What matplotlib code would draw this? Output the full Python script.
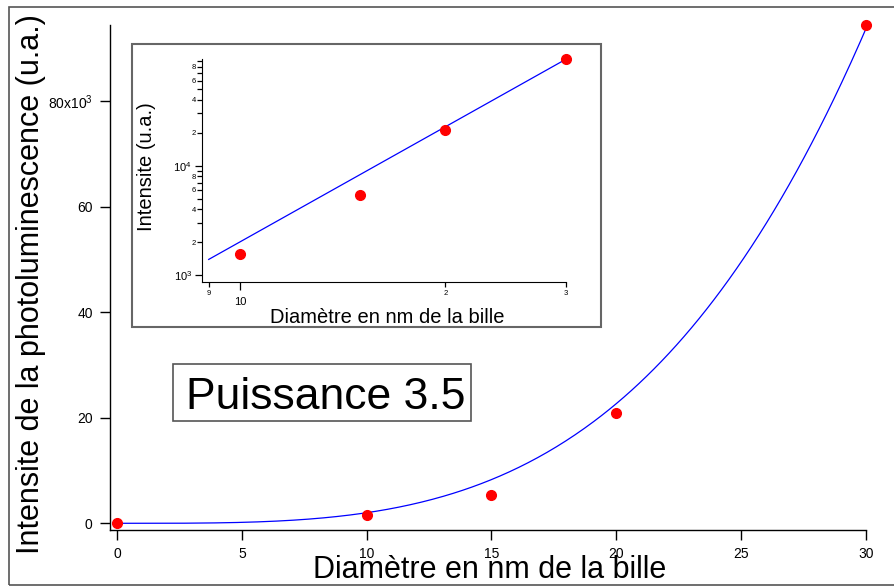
import numpy as np
import matplotlib.pyplot as plt
from matplotlib.patches import Rectangle

plt.rcParams['font.family'] = ['Liberation Sans', 'DejaVu Sans']
plt.rcParams['mathtext.fontset'] = 'custom'
plt.rcParams['mathtext.rm'] = 'Liberation Sans'
plt.rcParams['mathtext.it'] = 'Liberation Sans:italic'

# Mesures : diamètre des billes (nm) et intensité de photoluminescence (u.a.)
diametre = [0, 10, 15, 20, 30]
intensite = [0, 1550, 5400, 21000, 94500]
puissance = 3.5

# graduations
xticks_lin = [0, 5, 10, 15, 20, 25, 30]
yticks_lin = [0, 20000, 40000, 60000, 80000]
ylabels_lin = ['0', '20', '40', '60', r'$\mathregular{80x10^{3}}$']
xmaj_log = [10]
xmaj_log_labels = ['10']
xmin_log = [9, 20, 30]
xmin_log_labels = ['9', '2', '3']
ymaj_log = [1e3, 1e4]
ymaj_log_labels = [r'$\mathregular{10^{3}}$', r'$\mathregular{10^{4}}$']
ymin_log = [k * 1e3 for k in range(2, 10)] + [k * 1e4 for k in range(2, 10)]
ymin_log_labels = (['2', '', '4', '', '6', '', '8', ''] * 2)

W, H = 894, 586


# boîte en pixels (gauche, haut, droite, bas) -> fraction de la figure
def box(x0, y0, x1, y1):
    return [x0 / W, (H - y1) / H, (x1 - x0) / W, (y1 - y0) / H]


def fx(x):
    return x / W


def fy(y):
    return (H - y) / H


# ajustement en loi de puissance y = a * d^p (moindres carrés)
def fit_puissance(d, y, p):
    d = np.asarray(d, float)
    y = np.asarray(y, float)
    return np.sum(y * d**p) / np.sum(d**(2 * p))


def main():
    a = fit_puissance(diametre, intensite, puissance)

    fig = plt.figure(figsize=(W / 100, H / 100), dpi=100)

    # cadre extérieur
    fig.add_artist(Rectangle((fx(9), fy(585)), 1.0, 578 / H,
                             transform=fig.transFigure, fill=False,
                             ec='#555555', lw=1.2, zorder=0))

    # graphique principal (échelle linéaire)
    ax = fig.add_axes(box(110, 25, 866, 530))
    for s in ['top', 'right']:
        ax.spines[s].set_visible(False)
    for s in ['left', 'bottom']:
        ax.spines[s].set_linewidth(1.0)
    ax.set_xlim(-0.28, 30)
    ax.set_ylim(-1270, max(intensite))
    ax.set_xticks(xticks_lin)
    ax.set_yticks(yticks_lin, labels=ylabels_lin)
    ax.tick_params(length=7.5, width=1.0, labelsize=10, pad=5)

    xs = np.linspace(0, 30, 400)
    ax.plot(xs, a * xs**puissance, color='blue', lw=0.9)
    ax.plot(diametre, intensite, 'o', color='red', ms=7, clip_on=False, zorder=3)

    fig.text(fx(490), fy(578), 'Diamètre en nm de la bille', fontsize=22,
             ha='center', va='baseline')
    fig.text(fx(31), fy(284), 'Intensite de la photoluminescence (u.a.)',
             fontsize=22, rotation=90, ha='center', va='center')

    # étiquette "Puissance 3.5"
    fig.add_artist(Rectangle((fx(173), fy(421)), 298.5 / W, 57.5 / H,
                             transform=fig.transFigure, fc='white',
                             ec='#555555', lw=1.2, zorder=1))
    fig.text(fx(326), fy(409.3), 'Puissance 3.5', fontsize=32,
             ha='center', va='baseline', zorder=2)

    # encart log-log
    fig.add_artist(Rectangle((fx(132), fy(327)), 469 / W, 283 / H,
                             transform=fig.transFigure, fc='white',
                             ec='#666666', lw=1.5, zorder=1))
    ins = fig.add_axes(box(201.7, 59, 565.7, 281.7))
    ins.set_zorder(2)
    ins.patch.set_alpha(0)
    for s in ['top', 'right']:
        ins.spines[s].set_visible(False)
    ins.set_xscale('log')
    ins.set_yscale('log')
    ins.set_xlim(8.79, 30)
    ins.set_ylim(868, max(intensite))
    ins.set_xticks(xmaj_log, labels=xmaj_log_labels)
    ins.set_xticks(xmin_log, labels=xmin_log_labels, minor=True)
    ins.set_yticks(ymaj_log, labels=ymaj_log_labels)
    ins.set_yticks(ymin_log, labels=ymin_log_labels, minor=True)
    ins.tick_params(axis='x', which='major', length=6, width=0.9, labelsize=8, pad=5)
    ins.tick_params(axis='x', which='minor', length=3.3, width=0.9, labelsize=5.5, pad=2.4)
    ins.tick_params(axis='y', which='major', length=5, width=0.9, labelsize=8, pad=2)
    ins.tick_params(axis='y', which='minor', length=3.3, width=0.9, labelsize=5.5, pad=1)

    xl = np.linspace(9, 30, 200)
    ins.plot(xl, a * xl**puissance, color='blue', lw=0.9)
    ins.plot(diametre[1:], intensite[1:], 'o', color='red', ms=7, clip_on=False, zorder=3)

    fig.text(fx(387), fy(322.7), 'Diamètre en nm de la bille', fontsize=14.5,
             ha='center', va='baseline', zorder=3)
    fig.text(fx(147), fy(166.7), 'Intensite (u.a.)', fontsize=14.5,
             rotation=90, ha='center', va='center', zorder=3)

    fig.savefig('out.png', dpi=100)


if __name__ == "__main__":
    main()
